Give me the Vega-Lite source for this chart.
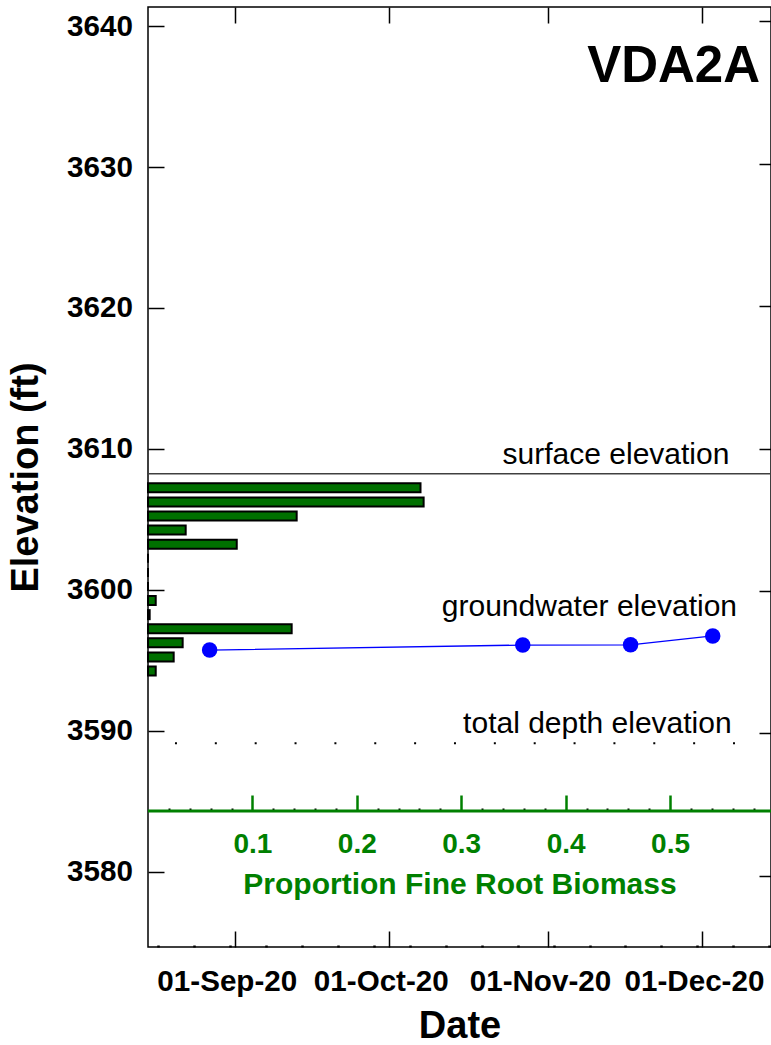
{
  "$schema": "https://vega.github.io/schema/vega-lite/v6.json",
  "width": 623,
  "height": 940,
  "autosize": {"type": "none"},
  "padding": {"left": 148, "top": 7, "right": 0, "bottom": 98},
  "background": "white",
  "config": {
    "view": {"stroke": "black", "strokeWidth": 1.5},
    "axis": {"grid": false, "labelFont": "Liberation Sans", "titleFont": "Liberation Sans", "labelOverlap": false, "labelBound": false, "labelFlush": false},
    "text": {"font": "Liberation Sans"}
  },
  "datasets": {
    "roots": [
      {"elevation": 3607.23, "proportion": 0.261},
      {"elevation": 3606.23, "proportion": 0.264},
      {"elevation": 3605.23, "proportion": 0.1424},
      {"elevation": 3604.23, "proportion": 0.0361},
      {"elevation": 3603.23, "proportion": 0.085},
      {"elevation": 3602.23, "proportion": 0},
      {"elevation": 3601.23, "proportion": 0},
      {"elevation": 3600.23, "proportion": 0},
      {"elevation": 3599.23, "proportion": 0.0074},
      {"elevation": 3598.23, "proportion": 0.0016},
      {"elevation": 3597.23, "proportion": 0.1376},
      {"elevation": 3596.23, "proportion": 0.0332},
      {"elevation": 3595.23, "proportion": 0.0246},
      {"elevation": 3594.23, "proportion": 0.0074}
    ],
    "groundwater": [
      {"date": "2020-08-27T00:00:00", "elevation": 3595.85},
      {"date": "2020-10-27T00:00:00", "elevation": 3596.2},
      {"date": "2020-11-17T00:00:00", "elevation": 3596.22},
      {"date": "2020-12-03T00:00:00", "elevation": 3596.84}
    ],
    "surface": [{"elevation": 3608.23}],
    "totaldepth": [{"elevation": 3589.3}],
    "rootaxis": [{"elevation": 3584.55}],
    "notes": [
      {"date": "2020-12-06T06:00:00", "elevation": 3608.91, "label": "surface elevation"},
      {"date": "2020-12-07T17:30:00", "elevation": 3598.24, "label": "groundwater elevation"},
      {"date": "2020-12-06T16:30:00", "elevation": 3590.0, "label": "total depth elevation"}
    ],
    "site": [{"date": "2020-12-12T05:00:00", "elevation": 3635.73, "label": "VDA2A"}]
  },
  "layer": [
    {
      "data": {"name": "rootaxis"},
      "mark": {"type": "rule", "color": "#008000", "strokeWidth": 3},
      "encoding": {
        "y": {"field": "elevation", "type": "quantitative", "scale": {"domain": [3575, 3641], "nice": false, "zero": false}, "axis": null}
      }
    },
    {
      "data": {"name": "roots"},
      "mark": {"type": "bar", "orient": "horizontal", "size": 9, "fill": "#007000", "stroke": "black", "strokeWidth": 2},
      "encoding": {
        "x": {
          "field": "proportion", "type": "quantitative",
          "scale": {"domain": [0, 0.5967], "nice": false, "zero": true},
          "axis": {
            "orient": "bottom", "offset": -136,
            "values": [0.02, 0.04, 0.06, 0.08, 0.1, 0.12, 0.14, 0.16, 0.18, 0.2, 0.22, 0.24, 0.26, 0.28, 0.3, 0.32, 0.34, 0.36, 0.38, 0.4, 0.42, 0.44, 0.46, 0.48, 0.5, 0.52, 0.54, 0.56, 0.58],
            "domain": false,
            "tickColor": {"condition": {"test": "round(datum.value*50) % 5 == 0", "value": "#008000"}, "value": "black"},
            "tickSize": {"condition": {"test": "round(datum.value*50) % 5 == 0", "value": -16}, "value": -3},
            "tickWidth": {"condition": {"test": "round(datum.value*50) % 5 == 0", "value": 2.5}, "value": 2},
            "labelExpr": "round(datum.value*50) % 5 == 0 ? format(datum.value, '.1f') : ''",
            "labelColor": "#008000", "labelFontSize": 28, "labelFontWeight": "bold", "labelPadding": 35.6,
            "title": "Proportion Fine Root Biomass", "titleColor": "#008000", "titleFontSize": 30, "titleFontWeight": "bold", "titlePadding": -2
          }
        },
        "y": {
          "field": "elevation", "type": "quantitative",
          "scale": {"domain": [3575, 3641], "nice": false, "zero": false},
          "axis": {
            "orient": "left", "values": [3580, 3590, 3600, 3610, 3620, 3630, 3640], "format": "d",
            "domain": false, "tickSize": -16, "tickColor": "black", "tickWidth": 1.5,
            "labelFontSize": 29.6, "labelFontWeight": "bold", "labelColor": "black", "labelPadding": 31.6,
            "title": "Elevation (ft)", "titleFontSize": 38, "titleFontWeight": "bold", "titleColor": "black", "titlePadding": 21
          }
        }
      }
    },
    {
      "data": {"name": "surface"},
      "mark": {"type": "rule", "color": "#404040", "strokeWidth": 1.5},
      "encoding": {
        "y": {"field": "elevation", "type": "quantitative", "scale": {"domain": [3575, 3641], "nice": false, "zero": false}, "axis": null}
      }
    },
    {
      "data": {"name": "totaldepth"},
      "mark": {"type": "rule", "color": "black", "strokeWidth": 2, "strokeDash": [2, 37.86], "strokeDashOffset": 3.86},
      "encoding": {
        "y": {"field": "elevation", "type": "quantitative", "scale": {"domain": [3575, 3641], "nice": false, "zero": false}, "axis": null}
      }
    },
    {
      "data": {"name": "groundwater"},
      "mark": {"type": "line", "color": "#0000ff", "strokeWidth": 1.3},
      "encoding": {
        "x": {
          "field": "date", "type": "temporal",
          "scale": {"domain": [{"year": 2020, "month": 8, "date": 15}, {"year": 2020, "month": 12, "date": 14, "hours": 8, "minutes": 24}], "nice": false},
          "axis": {
            "orient": "bottom",
            "values": [
              {"year": 2020, "month": 8, "date": 17}, {"year": 2020, "month": 8, "date": 24}, {"year": 2020, "month": 8, "date": 31},
              {"year": 2020, "month": 9, "date": 1}, {"year": 2020, "month": 9, "date": 7}, {"year": 2020, "month": 9, "date": 14},
              {"year": 2020, "month": 9, "date": 21}, {"year": 2020, "month": 9, "date": 28}, {"year": 2020, "month": 10, "date": 1},
              {"year": 2020, "month": 10, "date": 5}, {"year": 2020, "month": 10, "date": 12}, {"year": 2020, "month": 10, "date": 19},
              {"year": 2020, "month": 10, "date": 26}, {"year": 2020, "month": 11, "date": 1}, {"year": 2020, "month": 11, "date": 2},
              {"year": 2020, "month": 11, "date": 9}, {"year": 2020, "month": 11, "date": 16}, {"year": 2020, "month": 11, "date": 23},
              {"year": 2020, "month": 11, "date": 30}, {"year": 2020, "month": 12, "date": 1}, {"year": 2020, "month": 12, "date": 7},
              {"year": 2020, "month": 12, "date": 14}
            ],
            "domain": false, "tickColor": "black",
            "tickSize": {"condition": {"test": "date(datum.value) == 1", "value": -16}, "value": -2},
            "tickWidth": {"condition": {"test": "date(datum.value) == 1", "value": 1.5}, "value": 2.5},
            "labelExpr": "date(datum.value) == 1 ? timeFormat(datum.value, '%d-%b-%y') : ''",
            "labelFontSize": 29.6, "labelFontWeight": "bold", "labelColor": "black", "labelPadding": 36.6, "labelOffset": -8.5,
            "title": "Date", "titleFontSize": 38, "titleFontWeight": "bold", "titleColor": "black", "titlePadding": -3
          }
        },
        "y": {
          "field": "elevation", "type": "quantitative",
          "scale": {"domain": [3575, 3641], "nice": false, "zero": false},
          "axis": {"orient": "right", "values": [3580, 3590, 3600, 3610, 3620, 3630, 3640], "labels": false, "domain": false, "tickSize": -12, "tickColor": "black", "tickWidth": 1.5, "title": null}
        }
      }
    },
    {
      "data": {"name": "groundwater"},
      "mark": {"type": "circle", "color": "#0000ff", "opacity": 1, "size": 240},
      "encoding": {
        "x": {"field": "date", "type": "temporal", "scale": {"domain": [{"year": 2020, "month": 8, "date": 15}, {"year": 2020, "month": 12, "date": 14, "hours": 8, "minutes": 24}], "nice": false}, "axis": null},
        "y": {"field": "elevation", "type": "quantitative", "scale": {"domain": [3575, 3641], "nice": false, "zero": false}, "axis": null}
      }
    },
    {
      "data": {"name": "notes"},
      "mark": {"type": "text", "align": "right", "baseline": "alphabetic", "fontSize": 30, "color": "black", "font": "Liberation Sans"},
      "encoding": {
        "x": {"field": "date", "type": "temporal", "scale": {"domain": [{"year": 2020, "month": 8, "date": 15}, {"year": 2020, "month": 12, "date": 14, "hours": 8, "minutes": 24}], "nice": false}, "axis": null},
        "y": {"field": "elevation", "type": "quantitative", "scale": {"domain": [3575, 3641], "nice": false, "zero": false}, "axis": null},
        "text": {"field": "label"}
      }
    },
    {
      "data": {"name": "site"},
      "mark": {"type": "text", "align": "right", "baseline": "alphabetic", "fontSize": 51, "fontWeight": "bold", "color": "black", "font": "Liberation Sans"},
      "encoding": {
        "x": {
          "field": "date", "type": "temporal",
          "scale": {"domain": [{"year": 2020, "month": 8, "date": 15}, {"year": 2020, "month": 12, "date": 14, "hours": 8, "minutes": 24}], "nice": false},
          "axis": {
            "orient": "top",
            "values": [{"year": 2020, "month": 9, "date": 1}, {"year": 2020, "month": 10, "date": 1}, {"year": 2020, "month": 11, "date": 1}, {"year": 2020, "month": 12, "date": 1}],
            "labels": false, "domain": false, "tickSize": -16, "tickColor": "black", "tickWidth": 1.5, "title": null
          }
        },
        "y": {"field": "elevation", "type": "quantitative", "scale": {"domain": [3575, 3641], "nice": false, "zero": false}, "axis": null},
        "text": {"field": "label"}
      }
    }
  ],
  "resolve": {
    "scale": {"x": "independent", "y": "independent"},
    "axis": {"x": "independent", "y": "independent"}
  }
}
